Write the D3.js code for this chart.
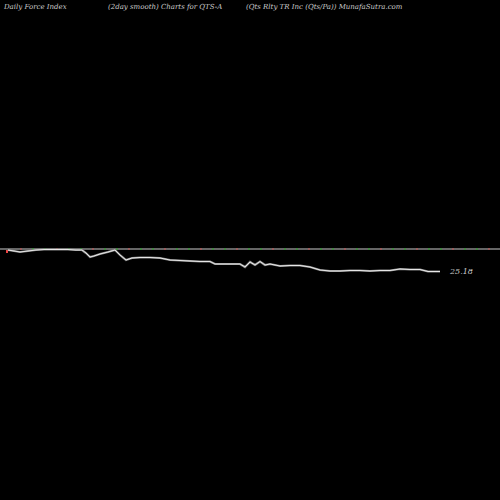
<!DOCTYPE html>
<html><head><meta charset="utf-8">
<script src="https://cdn.jsdelivr.net/npm/d3@7"></script>
<style>body{margin:0;background:#000}</style></head>
<body><svg id="c" width="500" height="500"></svg>
<script>
// day positions and force index (smoothed), drawn below the zero line
const days = [8,14,20,28,36,44,52,60,68,76,82,86,90,94,100,108,115,120,126,132,140,150,160,170,180,190,200,210,215,220,230,240,245,250,255,260,265,270,280,290,300,310,320,330,340,350,360,370,380,390,400,410,420,428,435,440]
const force = [-1,-2,-3,-2,-1,-0.5,-0.5,-0.5,-0.5,-1,-1,-4,-8,-7,-5,-3,-1,-6,-11,-9,-8.5,-8.5,-9,-11,-11.5,-12,-12.5,-12.5,-15,-15,-15,-15,-18,-13,-16,-12.5,-16,-15,-17,-16.5,-16.5,-18,-21,-22,-22,-21.5,-21.5,-22,-21.5,-21.5,-20,-20.5,-20.5,-22.5,-22.5,-22.5]
const dotsX = d3.range(20, 500, 12)
const lastLabel = '25.18'

const svg = d3.select('#c')
const x = d3.scaleLinear().domain([0, 500]).range([0, 500])
const y = d3.scaleLinear().domain([0, -30]).range([249, 279])

const title = svg.append('g').attr('font-family', 'DejaVu Serif').attr('font-style', 'italic')
  .attr('font-size', 7).attr('fill', '#ccc')
title.append('text').attr('x', 4).attr('y', 9).text('Daily Force  Index')
title.append('text').attr('x', 108).attr('y', 9).text('(2day smooth) Charts for QTS-A')
title.append('text').attr('x', 246).attr('y', 9).text('(Qts Rlty TR Inc (Qts/Pa)) MunafaSutra.com')

svg.append('line').attr('x1', 0).attr('x2', 500).attr('y1', y(0)).attr('y2', y(0))
  .attr('stroke', '#888').attr('stroke-width', 1.3)
svg.selectAll('.dot').data(dotsX).join('rect')
  .attr('x', d => x(d)).attr('y', y(0) - 0.5).attr('width', 2).attr('height', 1)
  .attr('fill', (d, i) => i % 3 === 0 ? '#c55' : '#2a2')
svg.append('rect').attr('x', 6).attr('y', 250).attr('width', 2).attr('height', 3).attr('fill', '#e44')

const line = d3.line().x((d, i) => x(days[i])).y(d => y(d))
svg.append('path').datum(force).attr('d', line).attr('fill', 'none')
  .attr('stroke', '#888').attr('stroke-width', 2.2)
svg.append('path').datum(force).attr('d', line).attr('fill', 'none')
  .attr('stroke', '#fff').attr('stroke-width', 0.8)

svg.append('text').attr('x', 450).attr('y', y(force[force.length - 1]) + 2)
  .attr('font-family', 'DejaVu Serif').attr('font-style', 'italic').attr('font-size', 8)
  .attr('fill', '#ccc').text(lastLabel)
</script></body></html>
